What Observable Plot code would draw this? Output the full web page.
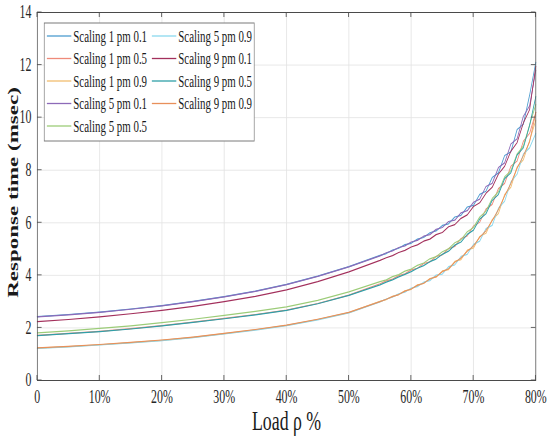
<!DOCTYPE html>
<html><head><meta charset="utf-8">
<script src="https://cdn.jsdelivr.net/npm/d3@7"></script>
<script src="https://cdn.jsdelivr.net/npm/@observablehq/plot@0.6"></script>
<style>
html,body{margin:0;padding:0;background:#fff;overflow:hidden}
#wrap{width:550px;height:442px}
svg{display:block}
</style></head><body><div id="wrap"></div>
<script>
// Load (fraction) sample points
const load = [0,0.05,0.1,0.15,0.2,0.25,0.3,0.35,0.4,0.45,0.5,
  0.55,0.56,0.57,0.58,0.59,0.6,0.61,0.62,0.63,0.64,0.65,0.66,0.67,0.68,0.69,
  0.7,0.71,0.72,0.73,0.74,0.75,0.76,0.77,0.78,0.79,0.8];

const scaling1pm01 = [2.43,2.51,2.60,2.72,2.85,3.01,3.19,3.40,3.66,3.97,4.33,
  4.76,4.83,4.96,5.03,5.17,5.22,5.38,5.44,5.62,5.69,5.90,5.96,6.22,6.28,6.60,6.66,7.08,7.20,7.72,7.90,8.56,8.70,9.55,9.75,10.85,12.1];
const scaling1pm05 = [1.72,1.79,1.87,1.97,2.09,2.22,2.36,2.51,2.68,2.93,3.25,
  3.68,3.79,3.86,3.99,4.06,4.21,4.27,4.45,4.51,4.72,4.78,5.02,5.10,5.40,5.50,5.88,6.02,6.52,6.70,7.30,7.50,8.15,8.35,9.10,9.40,10.2];
const scaling1pm09 = [1.23,1.29,1.36,1.44,1.53,1.64,1.78,1.93,2.10,2.32,2.58,
  3.01,3.08,3.20,3.27,3.41,3.47,3.64,3.69,3.88,3.93,4.17,4.22,4.53,4.60,4.96,5.04,5.48,5.60,6.12,6.35,7.08,7.35,8.12,8.40,9.12,9.9];
const scaling5pm01 = [2.42,2.50,2.59,2.71,2.84,3.00,3.18,3.39,3.65,3.96,4.32,
  4.74,4.86,4.93,5.06,5.12,5.27,5.33,5.49,5.55,5.75,5.82,6.05,6.10,6.38,6.46,6.78,6.90,7.38,7.50,8.10,8.28,9.0,9.2,10.05,10.45,11.8];
const scaling5pm05 = [1.81,1.89,1.98,2.08,2.20,2.33,2.48,2.63,2.80,3.05,3.37,
  3.76,3.83,3.95,4.03,4.16,4.24,4.38,4.47,4.63,4.71,4.90,5.01,5.24,5.36,5.66,5.82,6.22,6.44,6.92,7.18,7.75,7.98,8.62,8.92,9.72,10.5];
const scaling5pm09 = [1.22,1.28,1.35,1.43,1.52,1.63,1.77,1.92,2.09,2.31,2.57,
  2.99,3.10,3.17,3.30,3.36,3.52,3.57,3.74,3.80,4.01,4.05,4.33,4.40,4.72,4.80,5.18,5.30,5.78,5.90,6.55,6.82,7.55,7.85,8.62,8.85,9.4];
const scaling9pm01 = [2.24,2.32,2.42,2.54,2.67,2.82,3.00,3.20,3.45,3.76,4.13,
  4.57,4.67,4.75,4.87,4.95,5.08,5.16,5.30,5.38,5.55,5.63,5.85,5.93,6.17,6.30,6.62,6.76,7.12,7.35,7.85,8.15,8.72,9.05,9.80,10.3,11.95];
const scaling9pm05 = [1.71,1.78,1.86,1.96,2.08,2.21,2.35,2.50,2.67,2.92,3.24,
  3.64,3.74,3.83,3.94,4.04,4.14,4.27,4.37,4.52,4.62,4.80,4.92,5.15,5.27,5.56,5.72,6.14,6.34,6.85,7.08,7.68,7.90,8.58,8.85,9.70,10.8];
const scaling9pm09 = [1.24,1.30,1.37,1.45,1.54,1.65,1.79,1.94,2.11,2.33,2.59,
  3.0,3.09,3.19,3.27,3.40,3.48,3.62,3.70,3.86,3.95,4.14,4.25,4.50,4.66,4.92,5.12,5.45,5.70,6.08,6.50,7.02,7.50,8.08,8.55,9.08,10.2];

const seriesNames = ["Scaling 1 pm 0.1","Scaling 1 pm 0.5","Scaling 1 pm 0.9",
  "Scaling 5 pm 0.1","Scaling 5 pm 0.5","Scaling 5 pm 0.9",
  "Scaling 9 pm 0.1","Scaling 9 pm 0.5","Scaling 9 pm 0.9"];
const seriesValues = [scaling1pm01,scaling1pm05,scaling1pm09,scaling5pm01,scaling5pm05,scaling5pm09,scaling9pm01,scaling9pm05,scaling9pm09];
const seriesColors = ["#4d9dd0","#ef8a7a","#f2bd6e","#8d6ab8","#9ccc78","#8ad8ee","#a3305c","#2f9fa8","#e8905a"];

const yTicks = [0,2,4,6,8,10,12,14];
const xTicks = [0,0.1,0.2,0.3,0.4,0.5,0.6,0.7,0.8];
const xTickLabels = ["0","10%","20%","30%","40%","50%","60%","70%","80%"];
const xLabel = "Load ρ %";
const yLabel = "Response time (msec)";

const rows = [];
seriesValues.forEach((vals, i) => vals.forEach((v, j) => rows.push({load: load[j], rt: v, name: seriesNames[i]})));

const W = 833, H = 442;
const chart = Plot.plot({
  width: W, height: H,
  marginLeft: 56, marginRight: 22, marginTop: 12, marginBottom: 62,
  style: {fontFamily: "Liberation Serif", fontSize: "17px", background: "#fff", color: "#262626"},
  x: {domain: [0, 0.8]},
  y: {domain: [0, 14]},
  color: {domain: seriesNames, range: seriesColors},
  marks: [
    Plot.gridX(xTicks, {stroke: "#e3e3e3", strokeOpacity: 1}),
    Plot.gridY(yTicks, {stroke: "#e3e3e3", strokeOpacity: 1}),
    Plot.line(rows, {x: "load", y: "rt", z: "name", stroke: "name", strokeWidth: 1.2}),
    Plot.frame({stroke: "#4a4a4a"}),
    Plot.axisX(xTicks, {tickSize: 0, tickPadding: 10, fontSize: 18, tickFormat: d => xTickLabels[xTicks.indexOf(d)], label: null}),
    Plot.axisY(yTicks, {tickSize: 0, tickPadding: 9, fontSize: 18, label: null}),
    Plot.text([xLabel], {frameAnchor: "bottom", dy: 30, lineAnchor: "top", textAnchor: "middle", fontSize: 27, fill: "#1a1a1a"}),
    Plot.text([yLabel], {frameAnchor: "left", rotate: -90, dx: -37, dy: -4, lineAnchor: "middle", textAnchor: "middle", fontSize: 23, fontWeight: "bold", fill: "#1a1a1a"})
  ]
});

chart.setAttribute("width", 550);
chart.setAttribute("height", 442);
chart.setAttribute("preserveAspectRatio", "none");
chart.style.maxWidth = "none";

const sx = chart.scale("x"), sy = chart.scale("y");
const svg = d3.select(chart);
const [x0, x1] = sx.range, [y0, y1] = sy.range;
const tk = svg.append("g").attr("stroke", "#4a4a4a").attr("stroke-width", 1);
yTicks.forEach(v => {
  const y = sy.apply(v);
  tk.append("line").attr("x1", x0).attr("x2", x0 + 7).attr("y1", y).attr("y2", y);
  tk.append("line").attr("x1", x1).attr("x2", x1 - 7).attr("y1", y).attr("y2", y);
});
xTicks.forEach(v => {
  const x = sx.apply(v);
  tk.append("line").attr("x1", x).attr("x2", x).attr("y1", y0).attr("y2", y0 - 5);
  tk.append("line").attr("x1", x).attr("x2", x).attr("y1", y1).attr("y2", y1 + 5);
});

// legend inside plot area
const lg = svg.append("g").attr("font-family", "Liberation Serif").attr("text-anchor", "start");
lg.append("rect").attr("x", 67).attr("y", 23).attr("width", 318).attr("height", 118)
  .attr("fill", "#fff").attr("stroke", "#7a7a7a").attr("stroke-width", 1);
seriesNames.forEach((name, i) => {
  const col = i < 5 ? 0 : 1, row = i < 5 ? i : i - 5;
  const lx = col ? 230 : 71, y = 36 + row * 22.5;
  lg.append("line").attr("x1", lx).attr("x2", lx + 37).attr("y1", y).attr("y2", y)
    .attr("stroke", seriesColors[i]).attr("stroke-width", 1.3);
  lg.append("text").attr("x", lx + 40).attr("y", y).attr("dy", "0.35em")
    .attr("text-anchor", "start").attr("font-size", 16.5).attr("fill", "#1a1a1a").text(name);
});

document.getElementById("wrap").appendChild(chart);
</script></body></html>
